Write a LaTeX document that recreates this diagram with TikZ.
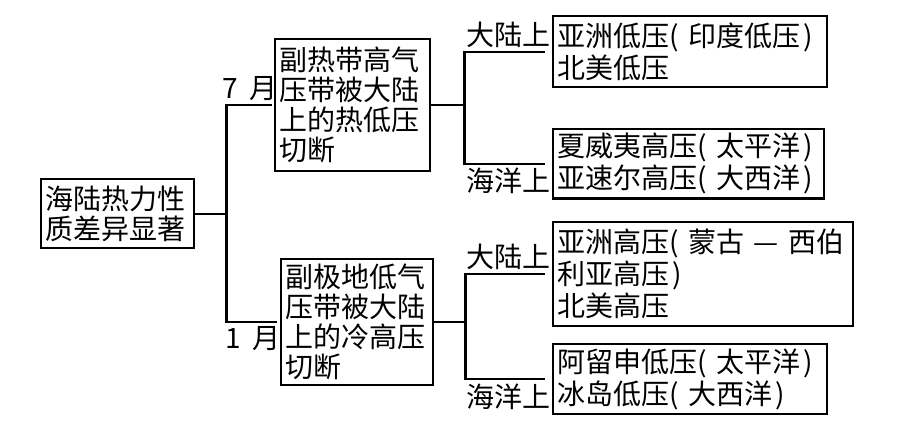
\documentclass[tikz,border=0pt]{standalone}
\usepackage{fontspec}
\setmainfont{Noto Sans CJK SC}
\newcommand{\lp}{(\kern0.35em}
\newcommand{\rp}{\kern0.1em)}
\begin{document}
\begin{tikzpicture}[x=0.5pt,y=-0.5pt,line width=1.2pt,
    box/.style={draw,anchor=north west,align=left,inner sep=2pt,
      font=\fontsize{14pt}{15pt}\selectfont},
    rbox/.style={box,font=\fontsize{14pt}{16pt}\selectfont},
    lbl/.style={inner sep=1.5pt,font=\fontsize{14pt}{15pt}\selectfont}]
  \useasboundingbox (0,0) rectangle (918,447);

  \node[box,text width=72.5pt,minimum height=34.5pt] (root) at (40,178)
    {海陆热力性\\质差异显著};
  \node[box,text width=73.5pt,minimum height=66pt] (jul) at (274,38)
    {副热带高气\\压带被大陆\\上的热低压\\切断};
  \node[box,text width=72pt,minimum height=63pt] (jan) at (280,258)
    {副极地低气\\压带被大陆\\上的冷高压\\切断};

  \node[rbox,text width=133pt,minimum height=35.5pt] (asialow) at (552,15)
    {亚洲低压\lp 印度低压\rp\\北美低压};
  \node[rbox,text width=131.5pt,minimum height=34.5pt] (hawaii) at (552,128)
    {夏威夷高压\lp 太平洋\rp\\亚速尔高压\lp 大西洋\rp};
  \node[rbox,text width=146pt,minimum height=52pt] (asiahigh) at (552,221)
    {亚洲高压\lp 蒙古 — 西伯\\利亚高压\rp\\北美高压};
  \node[rbox,text width=133pt,minimum height=35pt] (aleut) at (552,343)
    {阿留申低压\lp 太平洋\rp\\冰岛低压\lp 大西洋\rp};

  \path (root.east) ++(31,0) coordinate (trunk);
  \draw (root.east) -- (trunk);
  \draw[shorten >=1pt] (trunk) |- node[lbl,above,pos=0.75] {7 \,月} (jul.west);
  \draw[shorten >=1.5pt] (trunk) |- node[lbl,below,pos=0.75] {1 \,月} (jan.west);

  \path (jul.east) ++(33,0) coordinate (forkjul);
  \draw (jul.east) -- (forkjul);
  \draw[shorten >=3.5pt] (forkjul) |- node[lbl,above,pos=0.75] {大陆上} (asialow.west);
  \draw[shorten >=3.5pt] (forkjul) |- node[lbl,below,pos=0.75] {海洋上} (hawaii.west);

  \path (jan.east) ++(31,0) coordinate (forkjan);
  \draw (jan.east) -- (forkjan);
  \draw[shorten >=3.5pt] (forkjan) |- node[lbl,above,pos=0.75] {大陆上} (asiahigh.west);
  \draw[shorten >=3.5pt] (forkjan) |- node[lbl,below,pos=0.75] {海洋上} (aleut.west);
\end{tikzpicture}
\end{document}
